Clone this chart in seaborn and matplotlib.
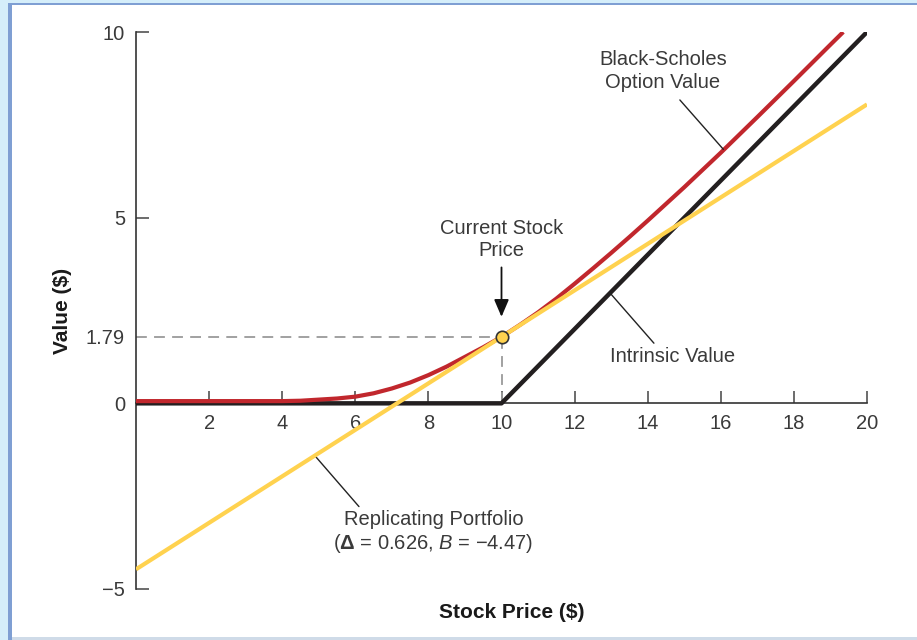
import matplotlib
matplotlib.use("Agg")
import matplotlib.pyplot as plt
import seaborn as sns
from matplotlib.patches import Rectangle

# Black-Scholes option value
bs_price = [0, 1, 2, 3, 4, 4.5, 5, 5.5, 6, 6.5, 7, 7.5, 8, 8.5, 9, 9.5, 10,
            10.5, 11, 11.5, 12, 12.5, 13, 13.5, 14, 15, 16, 17, 18, 19, 19.35]
bs_value = [0.06, 0.06, 0.06, 0.06, 0.06, 0.07, 0.1, 0.13, 0.18, 0.27, 0.4, 0.56, 0.76, 0.99, 1.25, 1.51, 1.79,
            2.11, 2.45, 2.82, 3.22, 3.63, 4.05, 4.48, 4.92, 5.82, 6.75, 7.71, 8.68, 9.66, 10.0]

# intrinsic value (strike 10)
intr_price = [0, 10, 20]
intr_value = [0, 0, 10]

# replicating portfolio line
rep_price = [0, 20]
rep_value = [-4.47, 8.05]

cur_price = 10
cur_value = 1.79

x_ticks = [2, 4, 6, 8, 10, 12, 14, 16, 18, 20]
y_ticks = [-5, 0, 1.79, 5, 10]
y_tick_labels = ["\u22125", "0", "1.79", "5", "10"]

RED = "#c1272d"
BLACK = "#231f20"
YELLOW = "#ffd24f"
TXT = "#3a3a3a"

sns.set_style("ticks")
plt.rcParams['font.family'] = ['Liberation Sans', 'DejaVu Sans']
plt.rcParams['mathtext.fontset'] = 'custom'
plt.rcParams['mathtext.rm'] = 'Liberation Sans'
plt.rcParams['mathtext.it'] = 'Liberation Sans:italic'
plt.rcParams['mathtext.bf'] = 'Liberation Sans:bold'

fig = plt.figure(figsize=(9.17, 6.4), dpi=100)
W, H = 917, 640

# page frame
fig.add_artist(Rectangle((0, 0), 8.3 / W, 1, transform=fig.transFigure, color="#d5eefa", lw=0, zorder=-2))
fig.add_artist(Rectangle((0, 1 - 2.7 / H), 1, 2.7 / H, transform=fig.transFigure, color="#d5eefa", lw=0, zorder=-2))
fig.add_artist(Rectangle((8.3 / W, 0), 3.2 / W, 1 - 2.7 / H, transform=fig.transFigure, color="#7f9fd3", lw=0, zorder=-1))
fig.add_artist(Rectangle((8.3 / W, 1 - 5.4 / H), 1, 2.7 / H, transform=fig.transFigure, color="#7f9fd3", lw=0, zorder=-1))
fig.add_artist(Rectangle((11.5 / W, 0), 1, 3 / H, transform=fig.transFigure, color="#cfdbe8", lw=0, zorder=-1))

ax = fig.add_axes([136 / W, 1 - 589 / H, 731 / W, 557 / H])
ax.patch.set_visible(False)

sns.lineplot(x=intr_price, y=intr_value, ax=ax, color=BLACK, lw=3.2, solid_capstyle="butt", zorder=3)
sns.lineplot(x=bs_price, y=bs_value, ax=ax, color=RED, lw=3.0, solid_capstyle="butt", zorder=3)
sns.lineplot(x=rep_price, y=rep_value, ax=ax, color=YELLOW, lw=3.0, solid_capstyle="butt", zorder=4)

# current price guides
ax.hlines(cur_value, 0, cur_price, colors="#9a9a9a", linestyles=(0, (6, 4)), lw=1.3, zorder=2)
ax.vlines(cur_price, 0, cur_value, colors="#9a9a9a", linestyles=(0, (6, 4)), lw=1.3, zorder=2)
sns.scatterplot(x=[cur_price], y=[cur_value], ax=ax, s=80, color=YELLOW, edgecolor="#333333",
                linewidth=1.2, zorder=6)

ax.set_xlim(0, 20)
ax.set_ylim(-5, 10)
sns.despine(ax=ax)
ax.spines['bottom'].set_position(('data', 0))
for s in ['left', 'bottom']:
    ax.spines[s].set_color("#333333")
    ax.spines[s].set_linewidth(1.2)

ax.set_xticks(x_ticks)
ax.set_yticks(y_ticks)
ax.set_yticklabels(y_tick_labels)
ax.tick_params(axis='both', direction='in', length=9, width=1.1, color="#444444",
               labelsize=14.5, labelcolor=TXT)
ax.tick_params(axis='x', pad=8)
ax.tick_params(axis='y', pad=8)
for t in ax.yaxis.get_major_ticks()[1:3]:
    t.tick1line.set_visible(False)
ax.set_xlabel("")
ax.set_ylabel("")

# annotations
FS = 14.5
line_kw = dict(arrowstyle='-', lw=1.0, color="#222222", shrinkA=0, shrinkB=0)
ax.text(14.42, 8.95, "Black-Scholes\nOption Value", ha='center', va='center', fontsize=FS,
        color=TXT, linespacing=1.22)
ax.annotate("", xy=(16.07, 6.84), xytext=(14.88, 8.17), arrowprops=line_kw)

ax.text(10.0, 4.41, "Current Stock\nPrice", ha='center', va='center', fontsize=FS,
        color=TXT, linespacing=1.22)
ax.annotate("", xy=(10.0, 2.33), xytext=(10.0, 3.66),
            arrowprops=dict(arrowstyle='-|>,head_length=0.7,head_width=0.3', lw=1.3,
                            color="#111111", shrinkA=0, shrinkB=0, mutation_scale=15))

ax.text(12.98, 1.27, "Intrinsic Value", ha='left', va='center', fontsize=FS, color=TXT)
ax.annotate("", xy=(14.17, 1.62), xytext=(12.97, 2.97), arrowprops=line_kw)

ax.text(8.14, -3.12, "Replicating Portfolio", ha='center', va='center', fontsize=FS, color=TXT)
ax.text(8.14, -3.77, "(${\\bf \\Delta}$ = 0.626, $\\it{B}$ = \u22124.47)",
        ha='center', va='center', fontsize=FS, color=TXT)
ax.annotate("", xy=(6.10, -2.78), xytext=(4.92, -1.44), arrowprops=line_kw)

fig.text(512 / W, 1 - 613 / H, "Stock Price ($)", ha='center', va='center', fontsize=15,
         fontweight='bold', color="#1a1a1a")
fig.text(63 / W, 1 - 311 / H, "Value ($)", ha='center', va='center', fontsize=15,
         fontweight='bold', color="#1a1a1a", rotation=90)

fig.savefig("out.png", dpi=100)
